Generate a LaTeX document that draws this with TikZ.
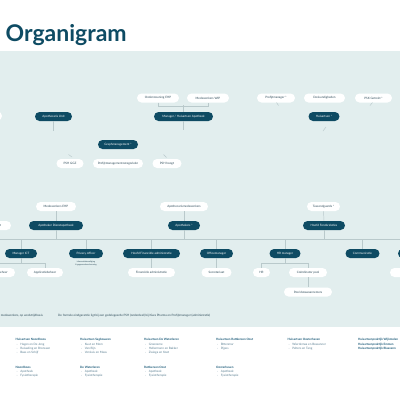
\documentclass[tikz,border=0pt]{standalone}
\usepackage{fontspec}
\setmainfont{Lato}
\definecolor{dkc}{HTML}{0E4B63}
\definecolor{panel}{HTML}{E2EEEE}
\definecolor{lnc}{HTML}{B9C9CB}
\definecolor{txc}{HTML}{2C4A58}
\definecolor{hdc}{HTML}{1B5A78}
\definecolor{lstc}{HTML}{5A7F92}
\tikzset{
 pill/.style={rounded corners=4.5pt, minimum height=9pt, inner sep=0pt, font=\fontsize{3}{3.6}\selectfont},
 dk/.style={pill, fill=dkc, text=white},
 wt/.style={pill, fill=white, text=txc},
 ln/.style={draw=lnc, line width=0.45pt},
 lst/.style={anchor=north west, align=left, inner sep=0pt, font=\fontsize{3}{4.1}\selectfont, text=lstc},
 note/.style={inner sep=0pt, font=\fontsize{3}{3.3}\selectfont, text=txc}
}
\begin{document}
\begin{tikzpicture}[x=1pt,y=-1pt]
\useasboundingbox (0,0) rectangle (400,400);
\clip (0,0) rectangle (400,400);
\fill[white] (0,0) rectangle (400,400);
\fill[panel] (0,51) rectangle (400,327);
\node[anchor=base west, inner sep=0pt, text=dkc, font=\fontsize{23}{27}\selectfont\bfseries] (title) at (5.5,41) {Organigram};

% top row
\node[wt, minimum width=42pt] (ondEHP) at (158,98) {Ondersteuning EHP};
\node[wt, minimum width=42pt] (medWIP) at (208,98) {Medewerkers WIP};
\node[wt, minimum width=38pt] (profm) at (276,98) {Profijtmanager *};
\node[wt, minimum width=41pt] (desk) at (324.5,98) {Deskundigheden};
\node[wt, minimum width=37pt] (psk) at (373.5,98) {PSK Getrekt *};
\node[wt, minimum width=42pt] (lefta) at (-19,116) {};
\node[dk, minimum width=37pt] (apo) at (53.5,116.5) {Apothecaris Unit};
\node[dk, minimum width=59pt] (manHA) at (183.5,116.5) {Manager / Huisartsen Apotheek};
\node[dk, minimum width=31pt] (huis) at (324,116.5) {Huisartsen *};

\coordinate (apoEnd) at (53.5,131);
\coordinate (manEnd) at (183.5,130);
\draw[ln] (ondEHP.south) -- ++(0,4) -| (medWIP.south);
\draw[ln] (manHA.north) -- ++(0,-6.5);
\draw[ln] (apo.south) -- (apoEnd);
\draw[ln] (manHA.south) -- (manEnd);
\coordinate (pm1) at (276.5,102.5);
\coordinate (pm2) at (278.5,105.5);
\draw[ln] (pm1) -- (pm2);
\coordinate (ps1) at (372.5,102.5);
\coordinate (ps2) at (370,105.5);
\draw[ln] (ps1) -- (ps2);
\coordinate (hu1) at (326,127);
\coordinate (hu2) at (323,131);
\draw[ln] (hu1) -- (hu2);

% graph management
\node[dk, minimum width=40pt] (graph) at (118,144.5) {Graphmanagement *};
\node[wt, minimum width=27pt] (pshggz) at (70,163.5) {PSH GGZ};
\node[wt, minimum width=50pt] (pcat) at (118,163.5) {Profijtmanagementcategorie\"en};
\node[wt, minimum width=29pt] (pshh) at (167,163.5) {PSH hoogt};
\coordinate (g1) at (68.5,154.5);
\coordinate (g2) at (72,157);
\draw[ln] (g1) -- (g2);
\coordinate (g3) at (163.5,154.5);
\coordinate (g4) at (166.5,157.5);
\draw[ln] (g3) -- (g4);

% third level
\node[wt, minimum width=40pt] (medEHP) at (56,206.5) {Medewerkers EHP};
\node[wt, minimum width=48pt] (apomw) at (184,206.5) {Apothecarismedewerkers};
\node[wt, minimum width=33pt] (tuss) at (323.5,206.5) {Tussendguards *};
\node[wt, minimum width=42pt] (leftb) at (-10,225.5) {Kwaliteit Project};
\node[dk, minimum width=54pt] (apoD) at (56,225.5) {Apotheker Dienstapotheek};
\node[dk, minimum width=32pt] (apoth) at (184,225.5) {Apothekers *};
\node[dk, minimum width=42pt] (fonds) at (324,225.5) {Hoofd Fondsrelaties};

\coordinate (barL) at (0,239);
\coordinate (barR) at (400,239);
\draw[ln] (barL) -- (barR);
\draw[ln] (medEHP.south) -- (apoD.north);
\draw[ln] (apomw.south) -- (apoth.north);
\draw[ln] (tuss.south) -- (fonds.north);
\draw[ln] (apoD.south) -- (apoD.south |- barL);
\draw[ln] (apoth.south) -- (apoth.south |- barL);
\draw[ln] (fonds.south) -- (fonds.south |- barL);

% fourth level
\node[dk, minimum width=32pt] (mict) at (21,253.5) {Manager ICT};
\node[dk, minimum width=34pt] (priv) at (86,253.5) {Privacy officer};
\node[dk, minimum width=57pt] (hfin) at (151.5,253.5) {Hoofd Financi\"ele administratie};
\node[dk, minimum width=33pt] (office) at (216.5,253.5) {Officemanager};
\node[dk, minimum width=31pt] (hrm) at (285,253.5) {HR manager};
\node[dk, minimum width=34pt] (comm) at (362.5,253.5) {Communicatie};
\node[dk, minimum width=32pt] (rightd) at (414,253.5) {};
\node[note, align=center, font=\fontsize{2}{2.6}\selectfont] (privnote) at (86,263.5) {informatiebeveiliging\\ \& gegevensbescherming};

\foreach \n in {mict,priv,hfin,office,hrm,comm,rightd}
  \draw[ln] (\n.north) -- (\n.north |- barL);

\node[wt, minimum width=40pt] (fb) at (-5,272.5) {Functioneel beheer};
\node[wt, minimum width=36pt] (appl) at (45,272.5) {Applicatiebeheer};
\node[wt, minimum width=47pt] (fin) at (151.5,272.5) {Financi\"ele administratie};
\node[wt, minimum width=30pt] (secr) at (216.5,272.5) {Secretariaat};
\node[wt, minimum width=17pt] (hr) at (261.5,272.5) {HR};
\node[wt, minimum width=38pt] (coord) at (308,272.5) {Co\"ordinator pool};
\node[wt, minimum width=32pt] (rightw) at (406,272.5) {Facilitair};
\node[wt, minimum width=48pt] (pool) at (308,292) {Pool datawaarnemers};

\draw[ln] (mict.south) -- ++(0,5.5) -| (appl.north);
\draw[ln] (mict.south) -- ++(0,5.5) -| (fb.north);
\draw[ln] (hfin.south) -- (fin.north);
\draw[ln] (office.south) -- (secr.north);
\draw[ln] (hrm.south) -- ++(0,5.5) -| (hr.north);
\draw[ln] (hrm.south) -- ++(0,5.5) -| (coord.north);
\draw[ln] (coord.south) -- (pool.north);

% footnotes
\node[note, anchor=east] (fn1) at (43,315.5) {* Aantal medewerkers, op wedstrijdbasis};
\node[note, anchor=west] (fn2) at (58,315.5) {De formele eindgarantie ligt bij een gedelegeerde PSH (onderdeel) bij Kiwa Pharma en Profijtmanager (administratie)};

% bottom lists
\node[lst] (c1) at (15.5,338.5) {\textbf{\color{hdc}Huisartsen Noordboos}\\
 \hspace*{1pt}-\hspace{2.5pt}Hagen en De Jong\\ \hspace*{1pt}-\hspace{2.5pt}Ruisseling en Bronssen\\ \hspace*{1pt}-\hspace{2.5pt}Baas en Schijf};
\node[lst] (c2) at (80,338.5) {\textbf{\color{hdc}Huisartsen Sagbouwen}\\
 \hspace*{1pt}-\hspace{2.5pt}Kuut en Mom\\ \hspace*{1pt}-\hspace{2.5pt}Van Rijn\\ \hspace*{1pt}-\hspace{2.5pt}Versluis en Maas};
\node[lst] (c3) at (144,338.5) {\textbf{\color{hdc}Huisartsen De Waterleren}\\
 \hspace*{1pt}-\hspace{2.5pt}Groeneme\\ \hspace*{1pt}-\hspace{2.5pt}Hellermann en Bakker\\ \hspace*{1pt}-\hspace{2.5pt}Zwiega en Koet};
\node[lst] (c4) at (216,338.5) {\textbf{\color{hdc}Huisartsen Rattkerson Oost}\\
 \hspace*{1pt}-\hspace{2.5pt}Rittenmar\\ \hspace*{1pt}-\hspace{2.5pt}Pijpes};
\node[lst] (c5) at (287.5,338.5) {\textbf{\color{hdc}Huisartsen Oosterhaven}\\
 \hspace*{1pt}-\hspace{2.5pt}Wierdemaa en Bossanner\\ \hspace*{1pt}-\hspace{2.5pt}Pelters en Tang};
\node[lst] (c6) at (358,338.5) {\textbf{\color{hdc}Huisartsenpraktijk Wijkmolen}\\
 \textbf{\color{hdc}Huisartsenpraktijk Emmen}\\ \textbf{\color{hdc}Huisartsenpraktijk Blaavenn}};
\node[lst] (d1) at (15.5,366) {\textbf{\color{hdc}Noordboos}\\
 \hspace*{1pt}-\hspace{2.5pt}Apotheek\\ \hspace*{1pt}-\hspace{2.5pt}Fysiotherapie};
\node[lst] (d2) at (80,366) {\textbf{\color{hdc}De Waterleren}\\
 \hspace*{1pt}-\hspace{2.5pt}Apotheek\\ \hspace*{1pt}-\hspace{2.5pt}Fysiotherapie};
\node[lst] (d3) at (144,366) {\textbf{\color{hdc}Rattkerson Oost}\\
 \hspace*{1pt}-\hspace{2.5pt}Apotheek\\ \hspace*{1pt}-\hspace{2.5pt}Fysiotherapie};
\node[lst] (d4) at (216,366) {\textbf{\color{hdc}Oosterhaven}\\
 \hspace*{1pt}-\hspace{2.5pt}Apotheek\\ \hspace*{1pt}-\hspace{2.5pt}Fysiotherapie};
\end{tikzpicture}
\end{document}
